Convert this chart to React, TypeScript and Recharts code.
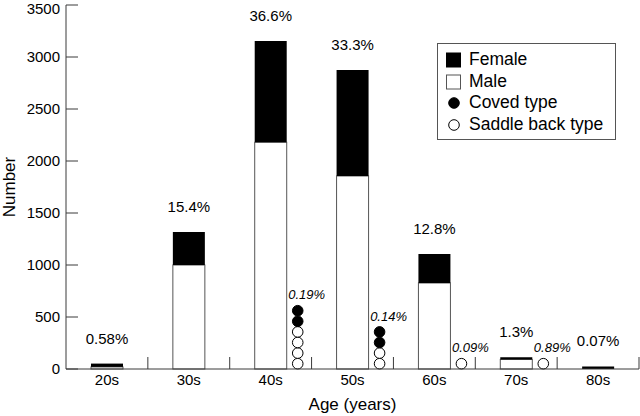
import { BarChart, Bar, XAxis, YAxis, Legend, LabelList, Label } from "recharts";

const ageGroups = ["20s", "30s", "40s", "50s", "60s", "70s", "80s"];
const maleCounts = [20, 1000, 2180, 1856, 827, 92, 0];
const femaleCounts = [32, 317, 974, 1019, 279, 20, 25];
const ageShare = ["0.58%", "15.4%", "36.6%", "33.3%", "12.8%", "1.3%", "0.07%"];
const covedCounts = [0, 0, 2, 2, 0, 0, 0];
const saddleCounts = [0, 0, 4, 2, 1, 1, 0];
const brugadaShare = ["", "", "0.19%", "0.14%", "0.09%", "0.89%", ""];
const countTicks = [0, 500, 1000, 1500, 2000, 2500, 3000, 3500];

const data = ageGroups.map((age, i) => ({
  age,
  male: maleCounts[i],
  female: femaleCounts[i],
  share: ageShare[i],
  coved: covedCounts[i],
  saddle: saddleCounts[i],
  brugada: brugadaShare[i],
}));

const FONT = '"Liberation Sans", Arial, Helvetica, sans-serif';
const WIDTH = 640;
const HEIGHT = 416;
const MARGIN = { top: 5, right: 1, bottom: 0, left: 0 };
const Y_AXIS_W = 66;
const X_AXIS_H = 47;
const AXIS_COLOR = "#3a3a3a";
const BAND = (WIDTH - MARGIN.left - Y_AXIS_W - MARGIN.right) / ageGroups.length;
const DOT_R = 5.3;

// male bar + the stacked patient circles next to it
function MaleBar(props: any) {
  const { x, y, width, height, index } = props;
  const row = props.payload && props.payload.age ? props.payload : data[index];
  const bottom = y + height;
  const cx = x + width / 2 + BAND * 0.33;
  const total = row.saddle + row.coved;
  const dots = [];
  for (let k = 0; k < total; k++) {
    const filled = k >= row.saddle;
    dots.push(
      <circle
        key={k}
        cx={cx}
        cy={bottom - DOT_R - k * DOT_R * 2}
        r={DOT_R}
        fill={filled ? "#000" : "#fff"}
        stroke="#000"
        strokeWidth={1}
      />
    );
  }
  return (
    <g>
      {height > 0 && (
        <rect x={x} y={y} width={width} height={height} fill="#fff" stroke="#555" strokeWidth={1} />
      )}
      {dots}
      {total > 0 && (
        <text
          x={cx + 9}
          y={bottom - total * DOT_R * 2 - 6}
          textAnchor="middle"
          fontSize={13}
          fontStyle="italic"
          fill="#000"
        >
          {row.brugada}
        </text>
      )}
    </g>
  );
}

function AgeTick(props: any) {
  const { x, y, payload } = props;
  const bx = x + BAND / 2;
  return (
    <g>
      <text x={x} y={y} dy={16} textAnchor="middle" fontSize={15} fill="#000">
        {payload.value}
      </text>
      <line x1={bx} x2={bx} y1={y} y2={y - 12} stroke={AXIS_COLOR} strokeWidth={1} />
    </g>
  );
}

function CountTick(props: any) {
  const { x, y, payload } = props;
  // keep the top label inside the page
  const dy = payload.value === countTicks[countTicks.length - 1] ? 9 : 5.3;
  return (
    <g>
      <text x={x} y={y} dy={dy} textAnchor="end" fontSize={15} fill="#000">
        {payload.value}
      </text>
      <line x1={x + 6} x2={x + 18} y1={y} y2={y} stroke={AXIS_COLOR} strokeWidth={1} />
    </g>
  );
}

const legendItems = [
  { label: "Female", kind: "square", fill: "#000" },
  { label: "Male", kind: "square", fill: "#fff" },
  { label: "Coved type", kind: "circle", fill: "#000" },
  { label: "Saddle back type", kind: "circle", fill: "#fff" },
];

function LegendBox() {
  return (
    <div
      style={{
        width: 179,
        height: 97,
        boxSizing: "border-box",
        border: "1px solid #555",
        padding: "5px 0 3px 8px",
        background: "#fff",
        fontSize: 17.5,
        lineHeight: "21.7px",
        color: "#000",
        textAlign: "left",
      }}
    >
      {legendItems.map((item) => (
        <div key={item.label} style={{ display: "flex", alignItems: "center", height: 21.7 }}>
          <svg width={23} height={16} style={{ flex: "none" }}>
            {item.kind === "square" ? (
              <rect x={0.5} y={1} width={14} height={14} fill={item.fill} stroke={item.fill === "#000" ? "#000" : "#555"} />
            ) : (
              <circle cx={8} cy={8} r={5.3} fill={item.fill} stroke="#000" />
            )}
          </svg>
          <span style={{ whiteSpace: "nowrap" }}>{item.label}</span>
        </div>
      ))}
    </div>
  );
}

export default function App() {
  return (
    <div style={{ position: "absolute", left: 0, top: 0, fontFamily: FONT, background: "#fff" }}>
      <BarChart width={WIDTH} height={HEIGHT} data={data} margin={MARGIN}>
        <XAxis
          dataKey="age"
          height={X_AXIS_H}
          axisLine={{ stroke: AXIS_COLOR }}
          tickLine={false}
          tickSize={0}
          tickMargin={0}
          interval={0}
          tick={<AgeTick />}
        >
          <Label value="Age (years)" position="insideBottom" offset={6} fontSize={17} fill="#000" />
        </XAxis>
        <YAxis
          width={Y_AXIS_W}
          domain={[0, 3500]}
          ticks={countTicks}
          interval={0}
          axisLine={{ stroke: AXIS_COLOR }}
          tickLine={false}
          tickSize={0}
          tickMargin={6}
          tick={<CountTick />}
        >
          <Label
            value="Number"
            angle={-90}
            position="insideLeft"
            offset={9}
            fontSize={17}
            fill="#000"
            style={{ textAnchor: "middle" }}
          />
        </YAxis>
        <Legend
          layout="vertical"
          align="center"
          verticalAlign="middle"
          content={<LegendBox />}
          wrapperStyle={{ left: 437, top: 43, width: 179 }}
        />
        <Bar dataKey="male" stackId="n" barSize={32} fill="#fff" shape={MaleBar} isAnimationActive={false} />
        <Bar dataKey="female" stackId="n" barSize={32} fill="#000" isAnimationActive={false}>
          <LabelList dataKey="share" position="top" offset={20} fontSize={15} fill="#000" />
        </Bar>
      </BarChart>
    </div>
  );
}
